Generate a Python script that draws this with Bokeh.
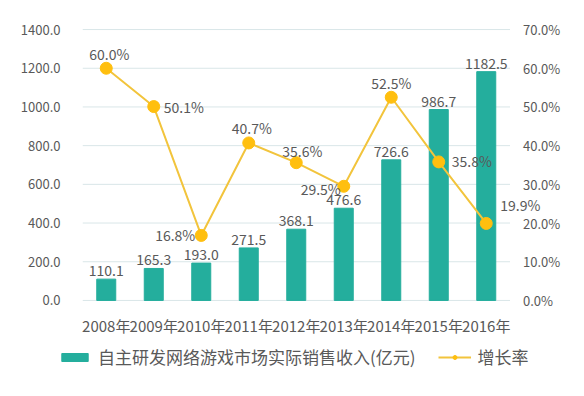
from bokeh.plotting import figure
from bokeh.layouts import column, row
from bokeh.models import (ColumnDataSource, Range1d, PrintfTickFormatter,
                          FixedTicker, Legend, LegendItem)
from bokeh.core.properties import value
from bokeh.embed import file_html
from bokeh.resources import INLINE

years = ["2008年", "2009年", "2010年", "2011年", "2012年", "2013年", "2014年", "2015年", "2016年"]
revenue = [110.1, 165.3, 193.0, 271.5, 368.1, 476.6, 726.6, 986.7, 1182.5]
growth = [60.0, 50.1, 16.8, 40.7, 35.6, 29.5, 52.5, 35.8, 19.9]
rev_ticks = [0, 200, 400, 600, 800, 1000, 1200, 1400]
pct_ticks = [0, 10, 20, 30, 40, 50, 60, 70]

# label placement offsets (screen px, +down) for growth labels
g_dx = [3, 10, -6, 3, 6, -3, 0, 13, 14]
g_dy = [-14, 0, 0, -15, -12, 3, -14, -1, -18]
g_align = ["center", "left", "right", "center", "center", "right", "center", "left", "left"]

TXT = "#595959"
FONT = "Noto Sans CJK SC"
BAR = "#24AE9D"
LINE = "#F2C43C"
MARK = "#FFBF0F"
GRID = "#D9E6E8"

n = len(years)
idx = list(range(n))
src = ColumnDataSource(dict(
    x=idx, rev=revenue, g=growth,
    rev_txt=["%.1f" % v for v in revenue],
    g_txt=["%.1f%%" % v for v in growth],
    dx=g_dx, dy=g_dy, al=g_align,
))

# vertical padding so that edge labels are not clipped
pad = 52
ratio = rev_ticks[-1] / pct_ticks[-1]

p = figure(x_range=Range1d(-0.5, n - 0.5 + 1.4),
           y_range=Range1d(-pad, rev_ticks[-1] + pad),
           width=576, height=340, output_backend="svg", toolbar_location=None,
           min_border_left=82, min_border_right=0, min_border_top=19, min_border_bottom=30,
           background_fill_color="white", border_fill_color="white")
p.outline_line_color = None
p.extra_y_ranges = {"pct": Range1d(-pad / ratio, pct_ticks[-1] + pad / ratio)}
p.xgrid.grid_line_color = None
p.ygrid.grid_line_color = None

# gridlines spanning the category area
p.segment(x0=-0.5, x1=n - 0.5, y0=rev_ticks, y1=rev_ticks, line_color=GRID, line_width=1)

bars = p.vbar(x="x", top="rev", width=0.4, color=BAR, source=src)
line = p.line(x="x", y="g", y_range_name="pct", line_color=LINE, line_width=2, source=src)
pts = p.scatter(x="x", y="g", y_range_name="pct", size=12, fill_color=MARK,
                line_color=MARK, source=src)

p.text(x="x", y="rev", text="rev_txt", source=src, text_align="center",
       text_baseline="bottom", y_offset=-3, text_font=value(FONT),
       text_font_size="14px", text_color=TXT)
p.text(x="x", y="g", text="g_txt", source=src, y_range_name="pct",
       x_offset="dx", y_offset="dy", text_align="al", text_baseline="middle",
       text_font=value(FONT), text_font_size="14px", text_color=TXT)

# right-hand percentage scale
p.text(x=n - 0.5, y=pct_ticks, text=["%.1f%%" % t for t in pct_ticks], y_range_name="pct",
       x_offset=13, text_align="left", text_baseline="middle",
       text_font=value(FONT), text_font_size="13px", text_color=TXT)

ax = p.yaxis[0]
ax.ticker = FixedTicker(ticks=rev_ticks)
ax.formatter = PrintfTickFormatter(format="%.1f")
xa = p.xaxis[0]
xa.ticker = FixedTicker(ticks=idx)
xa.major_label_overrides = {i: y for i, y in zip(idx, years)}
for a in [ax, xa]:
    a.axis_line_color = None
    a.major_tick_line_color = None
    a.minor_tick_line_color = None
    a.major_label_text_color = TXT
    a.major_label_text_font = FONT
    a.major_label_text_font_size = "13px"
ax.major_label_standoff = 16
xa.major_label_standoff = -2
xa.major_label_text_font_size = "15px"

# legend panel (glyphs kept far out of view; only the legend shows)
pl = figure(width=576, height=48, output_backend="svg", toolbar_location=None,
            x_axis_type=None, y_axis_type=None,
            min_border_left=0, min_border_right=0, min_border_top=0, min_border_bottom=0,
            x_range=Range1d(0, 1), y_range=Range1d(5000, 5001),
            background_fill_color="white", border_fill_color="white")
pl.outline_line_color = None
pl.xgrid.grid_line_color = None
pl.ygrid.grid_line_color = None
lb = pl.vbar(x="x", top="rev", width=0.4, color=BAR, source=src)
ll = pl.line(x="x", y="g", line_color=LINE, line_width=2, source=src)
lp = pl.scatter(x="x", y="g", size=12, fill_color=MARK, line_color=MARK, source=src)
legend = Legend(items=[
    LegendItem(label="自主研发网络游戏市场实际销售收入(亿元)", renderers=[lb]),
    LegendItem(label="增长率", renderers=[ll, lp]),
], orientation="horizontal", location=(58, 19))
legend.label_text_font = FONT
legend.label_text_font_size = "17px"
legend.label_text_color = TXT
legend.glyph_width = 33
legend.glyph_height = 10
legend.spacing = 22
legend.border_line_color = None
legend.background_fill_alpha = 0
legend.padding = 4
legend.label_standoff = 7
pl.add_layout(legend)

layout = column(p, row(pl, spacing=0), spacing=0)
open("out.html", "w").write(file_html(layout, INLINE))
